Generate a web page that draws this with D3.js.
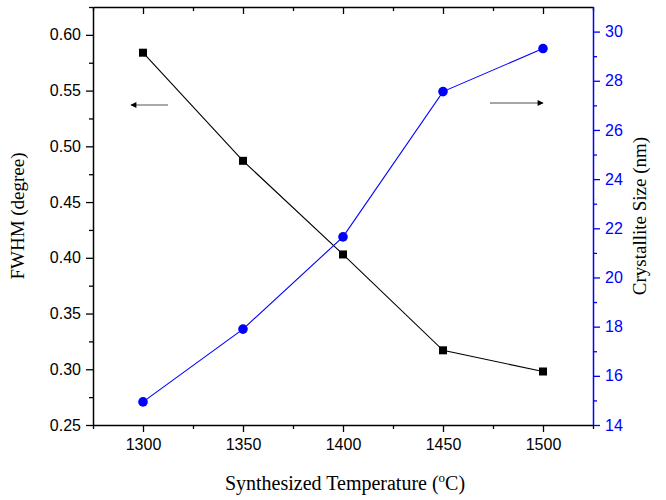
<!DOCTYPE html>
<html>
<head>
<meta charset="utf-8">
<script src="https://cdn.jsdelivr.net/npm/d3@7"></script>
<style>
  html, body { margin: 0; padding: 0; background: #fff; }
  svg { display: block; }
</style>
</head>
<body>
<svg id="chart" width="666" height="500"></svg>
<script>
const temperatures = [1300, 1350, 1400, 1450, 1500];
const fwhm = [0.584, 0.487, 0.403, 0.317, 0.298];
const crystalliteSize = [14.94, 17.9, 21.65, 27.56, 29.31];
const xTicks = [1300, 1350, 1400, 1450, 1500];
const leftTicks = [0.25, 0.30, 0.35, 0.40, 0.45, 0.50, 0.55, 0.60];
const rightTicks = [14, 16, 18, 20, 22, 24, 26, 28, 30];

const svg = d3.select("#chart");
const L = 93, R = 593, T = 7, B = 425;
const x = d3.scaleLinear().domain([1275, 1525]).range([L, R]);
const yL = d3.scaleLinear().domain([0.25, 0.625]).range([B, T]);
const yR = d3.scaleLinear().domain([14, 31]).range([B, T]);
const blue = "#0000ff";
const tickFont = "'Liberation Sans', Arial, sans-serif";
const titleFont = "'Liberation Serif', 'Times New Roman', serif";

const xMinor = d3.range(1275, 1526, 25).filter(v => !xTicks.includes(v));
const lMinor = d3.range(0.275, 0.626, 0.05).map(v => +v.toFixed(3));
const rMinor = d3.range(15, 31, 2);

function styleAxis(g, color) {
  g.selectAll("path").attr("stroke", color).attr("stroke-width", 1.5);
  g.selectAll("line").attr("stroke", color).attr("stroke-width", 1.3);
  g.selectAll("text").attr("fill", color).attr("font-family", tickFont).attr("font-size", 16);
}
function minor(g, color) {
  g.select("path").remove();
  g.selectAll("line").attr("stroke", color).attr("stroke-width", 1.3);
}

// Bottom axis
const gb = svg.append("g").attr("transform", `translate(0,${B})`)
  .call(d3.axisBottom(x).tickValues(xTicks).tickFormat(d3.format("d")).tickSize(7).tickSizeOuter(0).tickPadding(7));
styleAxis(gb, "#000");
svg.append("g").attr("transform", `translate(0,${B})`)
  .call(d3.axisBottom(x).tickValues(xMinor).tickFormat("").tickSize(4).tickSizeOuter(0))
  .call(g => minor(g, "#000"));

// Top axis (inward ticks)
const gt = svg.append("g").attr("transform", `translate(0,${T})`)
  .call(d3.axisBottom(x).tickValues(xTicks).tickFormat("").tickSize(7).tickSizeOuter(0));
styleAxis(gt, "#000");
svg.append("g").attr("transform", `translate(0,${T})`)
  .call(d3.axisBottom(x).tickValues(xMinor).tickFormat("").tickSize(4).tickSizeOuter(0))
  .call(g => minor(g, "#000"));

// Left axis
const gl = svg.append("g").attr("transform", `translate(${L},0)`)
  .call(d3.axisLeft(yL).tickValues(leftTicks).tickFormat(d3.format(".2f")).tickSize(7).tickSizeOuter(0).tickPadding(5));
styleAxis(gl, "#000");
svg.append("g").attr("transform", `translate(${L},0)`)
  .call(d3.axisLeft(yL).tickValues(lMinor).tickFormat("").tickSize(4).tickSizeOuter(0))
  .call(g => minor(g, "#000"));

// Right axis
const gr = svg.append("g").attr("transform", `translate(${R},0)`)
  .call(d3.axisRight(yR).tickValues(rightTicks).tickFormat(d3.format("d")).tickSize(7).tickSizeOuter(0).tickPadding(5));
styleAxis(gr, blue);
svg.append("g").attr("transform", `translate(${R},0)`)
  .call(d3.axisRight(yR).tickValues(rMinor).tickFormat("").tickSize(4).tickSizeOuter(0))
  .call(g => minor(g, blue));

// Lines
const fData = temperatures.map((t, i) => ({t, v: fwhm[i]}));
const cData = temperatures.map((t, i) => ({t, v: crystalliteSize[i]}));
svg.append("path").datum(fData)
  .attr("fill", "none").attr("stroke", "#000").attr("stroke-width", 1.1)
  .attr("d", d3.line().x(d => x(d.t)).y(d => yL(d.v)));
svg.append("path").datum(cData)
  .attr("fill", "none").attr("stroke", blue).attr("stroke-width", 1.1)
  .attr("d", d3.line().x(d => x(d.t)).y(d => yR(d.v)));

// Markers
svg.selectAll("rect.sq").data(fData).enter().append("rect")
  .attr("x", d => x(d.t) - 4).attr("y", d => yL(d.v) - 4)
  .attr("width", 8).attr("height", 8).attr("fill", "#000");
svg.selectAll("circle.ci").data(cData).enter().append("circle")
  .attr("cx", d => x(d.t)).attr("cy", d => yR(d.v)).attr("r", 4.8).attr("fill", blue);

// Arrows
const defs = svg.append("defs");
defs.append("marker").attr("id", "ah").attr("viewBox", "0 0 10 10")
  .attr("refX", 9).attr("refY", 5).attr("markerWidth", 10).attr("markerHeight", 6)
  .attr("markerUnits", "userSpaceOnUse").attr("orient", "auto")
  .append("path").attr("d", "M0,0 L10,5 L0,10 Z").attr("fill", "#000");
svg.append("line").attr("x1", 168).attr("y1", 105).attr("x2", 131).attr("y2", 105)
  .attr("stroke", "#555").attr("stroke-width", 1.2).attr("marker-end", "url(#ah)");
svg.append("line").attr("x1", 490).attr("y1", 103).attr("x2", 543).attr("y2", 103)
  .attr("stroke", "#888").attr("stroke-width", 1.5).attr("marker-end", "url(#ah)");

// Titles
svg.append("text").attr("transform", `translate(24,${(T + B) / 2}) rotate(-90)`)
  .attr("text-anchor", "middle").attr("font-family", titleFont).attr("font-size", 19)
  .attr("fill", "#000").text("FWHM (degree)");
svg.append("text").attr("transform", `translate(646,${(T + B) / 2}) rotate(-90)`)
  .attr("text-anchor", "middle").attr("font-family", titleFont).attr("font-size", 19)
  .attr("fill", "#000").text("Crystallite Size (nm)");
const xt = svg.append("text").attr("x", (L + R) / 2 + 2).attr("y", 490)
  .attr("text-anchor", "middle").attr("font-family", titleFont).attr("font-size", 20).attr("fill", "#000");
xt.append("tspan").text("Synthesized Temperature (");
xt.append("tspan").attr("font-size", 13).attr("dy", -8).text("o");
xt.append("tspan").attr("dy", 8).text("C)");
</script>
</body>
</html>
